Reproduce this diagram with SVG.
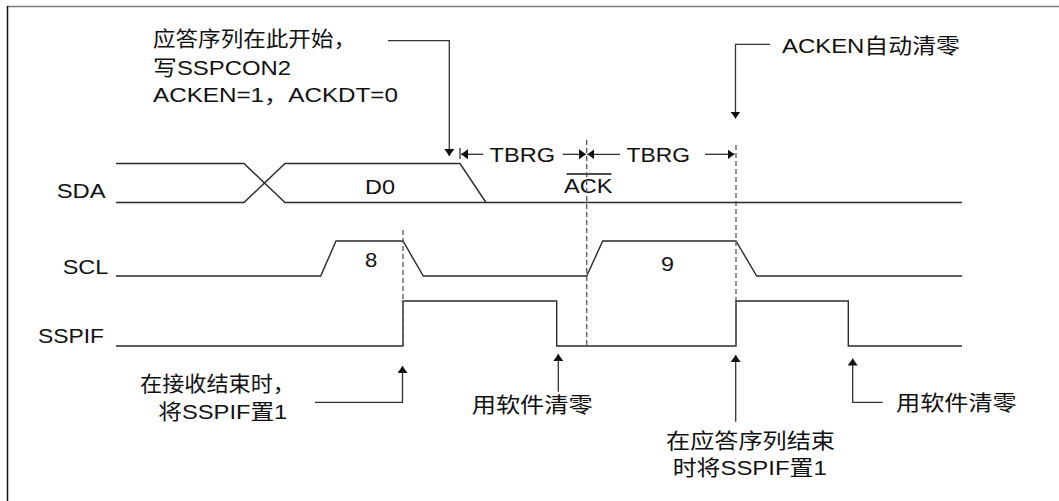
<svg xmlns="http://www.w3.org/2000/svg" width="1059" height="501" viewBox="0 0 1059 501">
<style>
text{font-family:"Liberation Sans","Noto Sans CJK SC",sans-serif;font-size:21px;fill:#111}
.sig{fill:none;stroke:#2a2a2a;stroke-width:1.4}
.dash{fill:none;stroke:#555;stroke-width:1.3;stroke-dasharray:5,3}
.con{fill:none;stroke:#333;stroke-width:1.3}
</style>
<defs>
<marker id="ah" markerUnits="userSpaceOnUse" markerWidth="8" markerHeight="10" refX="7" refY="5" orient="auto">
<path d="M0,0 L7,5 L0,10 z" fill="#111"/>
</marker>
</defs>
<rect width="1059" height="501" fill="#fff"/>
<g id="frame">
<line x1="7" y1="6.5" x2="1059" y2="6.5" stroke="#777" stroke-width="1.5"/>
<line x1="7.5" y1="6" x2="7.5" y2="501" stroke="#111" stroke-width="1.5"/>
</g>
<g id="sda">
<text x="56.7" y="198.3" textLength="49" lengthAdjust="spacingAndGlyphs">SDA</text>
<path class="sig" d="M116,163.5 H244 L285,202.5 H962"/>
<path class="sig" d="M116,202.5 H244 L285,163.5 H460 L486,202.5"/>
<text x="365" y="193.5" textLength="30" lengthAdjust="spacingAndGlyphs">D0</text>
<text x="564" y="193" textLength="48.5" lengthAdjust="spacingAndGlyphs">ACK</text>
<line x1="566.5" y1="174" x2="611.5" y2="174" stroke="#111" stroke-width="1.3"/>
</g>
<g id="scl">
<text x="62.7" y="274" textLength="45.6" lengthAdjust="spacingAndGlyphs">SCL</text>
<path class="sig" d="M116,276 H320.7 L336,241 H403 L423.3,276 H586.7 L602.7,241 H736 L756.7,276 H962"/>
<text x="365" y="266.5" textLength="12.3" lengthAdjust="spacingAndGlyphs">8</text>
<text x="661" y="271" textLength="13" lengthAdjust="spacingAndGlyphs">9</text>
</g>
<g id="sspif">
<text x="38" y="342.7" textLength="66" lengthAdjust="spacingAndGlyphs">SSPIF</text>
<path class="sig" d="M116,346 H403 V301 H556.7 V346 H736 V301 H848.3 V346 H962"/>
</g>
<g id="markers">
<line class="dash" x1="403" y1="230" x2="403" y2="346"/>
<line class="dash" x1="586.7" y1="140" x2="586.7" y2="346"/>
<line class="dash" x1="736" y1="145" x2="736" y2="346"/>
</g>
<g id="tbrg1">
<text x="489.5" y="161.5" textLength="65.5" lengthAdjust="spacingAndGlyphs">TBRG</text>
</g>
<g id="tbrg2">
<text x="626.5" y="161.5" textLength="63.5" lengthAdjust="spacingAndGlyphs">TBRG</text>
</g>
<g id="note-start">
<text x="153" y="46" textLength="203" lengthAdjust="spacingAndGlyphs">应答序列在此开始，</text>
<text x="153" y="75" textLength="138" lengthAdjust="spacingAndGlyphs">写SSPCON2</text>
<text x="153" y="101.5" textLength="245" lengthAdjust="spacingAndGlyphs">ACKEN=1，ACKDT=0</text>
</g>
<g id="note-acken">
<text x="782" y="53" textLength="178" lengthAdjust="spacingAndGlyphs">ACKEN自动清零</text>
</g>
<g id="note-recv">
<text x="140" y="391" textLength="155" lengthAdjust="spacingAndGlyphs">在接收结束时，</text>
<text x="158.3" y="419" textLength="129" lengthAdjust="spacingAndGlyphs">将SSPIF置1</text>
</g>
<g id="note-clear1">
<text x="471.7" y="411.5" textLength="121" lengthAdjust="spacingAndGlyphs">用软件清零</text>
</g>
<g id="note-ackend">
<text x="666" y="447.5" textLength="169" lengthAdjust="spacingAndGlyphs">在应答序列结束</text>
<text x="672.7" y="474.5" textLength="154" lengthAdjust="spacingAndGlyphs">时将SSPIF置1</text>
</g>
<g id="note-clear2">
<text x="896" y="409.5" textLength="120.7" lengthAdjust="spacingAndGlyphs">用软件清零</text>
</g>
<g id="connectors">
<path class="con" d="M388,40.7 H449.3 V156" marker-end="url(#ah)"/>
<path class="con" d="M770,44.3 H735.5 V118.5" marker-end="url(#ah)"/>
<path class="con" d="M315,402.3 H402.5 V366" marker-end="url(#ah)"/>
<path class="con" d="M558.3,391.7 V354" marker-end="url(#ah)"/>
<path class="con" d="M735.7,421.7 V355" marker-end="url(#ah)"/>
<path class="con" d="M882.7,402.3 H852.7 V358.5" marker-end="url(#ah)"/>
<path class="con" d="M483.3,154.3 H461" marker-end="url(#ah)"/>
<line class="con" x1="460" y1="148" x2="460" y2="159"/>
<path class="con" d="M562.7,154.3 H586" marker-end="url(#ah)"/>
<path class="con" d="M620,154.3 H587.4" marker-end="url(#ah)"/>
<path class="con" d="M705,154.3 H734.5" marker-end="url(#ah)"/>
</g>
</svg>
